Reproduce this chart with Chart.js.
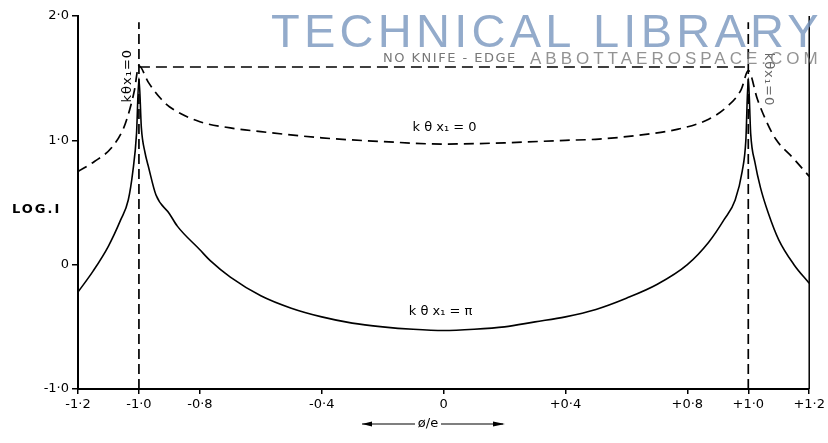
<!DOCTYPE html>
<html><head><meta charset="utf-8">
<script src="https://cdn.jsdelivr.net/npm/chart.js@4"></script>
<style>html,body{margin:0;padding:0;background:#fff}#wrap{width:828px;height:443px}</style>
</head><body><div id="wrap"><canvas id="c" width="828" height="443"></canvas></div>
<script>
// kθx1 = π (solid)
const piX = [-1.2,-1.15,-1.1,-1.06,-1.035,-1.02,-1.008,-1.0,-0.992,-0.98,-0.97,-0.944,-0.9,-0.874,-0.8,-0.765,-0.7,-0.6,-0.5,-0.4,-0.3,-0.2,-0.1,0,0.1,0.2,0.3,0.4,0.5,0.6,0.7,0.8,0.87,0.92,0.957,0.98,0.992,1.0,1.008,1.022,1.04,1.065,1.1,1.15,1.2];
const piY = [-0.22,-0.05,0.15,0.36,0.52,0.75,1.05,1.5,1.1,0.9,0.8,0.56,0.41,0.31,0.12,0.03,-0.1,-0.25,-0.35,-0.42,-0.47,-0.5,-0.52,-0.53,-0.52,-0.5,-0.46,-0.42,-0.36,-0.27,-0.16,0.0,0.18,0.36,0.52,0.75,1.0,1.5,1.05,0.82,0.62,0.42,0.2,0.0,-0.15];
// kθx1 = 0 (dashed)
const zeroX = [-1.2,-1.146,-1.09,-1.05,-1.03,-1.015,-1.0,-0.97,-0.93,-0.9,-0.8,-0.7,-0.6,-0.4,-0.2,0,0.2,0.4,0.51,0.67,0.77,0.87,0.93,0.977,1.0,1.03,1.06,1.09,1.15,1.2];
const zeroY = [0.75,0.83,0.94,1.1,1.25,1.4,1.6,1.47,1.34,1.27,1.15,1.1,1.07,1.02,0.99,0.97,0.98,1.0,1.01,1.05,1.09,1.17,1.27,1.41,1.56,1.33,1.15,1.01,0.85,0.71];
// no knife-edge level
const knifeX = [-1.0, 1.0];
const knifeY = [1.59, 1.59];
// vertical markers at ±1.0
const markX = [-1.0, 1.0];
const markY = [-1.0, 1.95];
const xTicks = [-1.2,-1.0,-0.8,-0.4,0,0.4,0.8,1.0,1.2];
const xTickLabels = ['-1·2','-1·0','-0·8','-0·4','0','+0·4','+0·8','+1·0','+1·2'];
const yTicks = [-1,0,1,2];
const yTickLabels = ['-1·0','0','1·0','2·0'];

const pts = (xs, ys) => xs.map((x, i) => ({x, y: ys[i]}));
const FONT = '"DejaVu Sans", sans-serif';

const overlay = {
  id: 'overlay',
  afterDatasetsDraw(chart) {
    const ctx = chart.ctx, xs = chart.scales.x, ys = chart.scales.y;
    const px = v => xs.getPixelForValue(v), py = v => ys.getPixelForValue(v);
    ctx.save();
    // right frame line
    ctx.strokeStyle = '#000'; ctx.lineWidth = 1.5;
    ctx.beginPath(); ctx.moveTo(px(1.2), py(-1)); ctx.lineTo(px(1.2), py(2)); ctx.stroke();
    ctx.fillStyle = '#000';
    ctx.textAlign = 'center'; ctx.textBaseline = 'middle';
    ctx.font = '13px ' + FONT;
    ctx.fillText('k θ x₁ = 0', px(0.003), py(1.1));
    ctx.fillText('k θ x₁ = π', px(-0.01), py(-0.38));
    // rotated labels
    ctx.save(); ctx.translate(px(-1.036), py(1.52)); ctx.rotate(-Math.PI/2);
    ctx.letterSpacing = '1px';
    ctx.fillText('kθx₁=0', 0, 0); ctx.restore();
    ctx.save(); ctx.translate(px(1.065), py(1.49)); ctx.rotate(Math.PI/2);
    ctx.letterSpacing = '1px';
    ctx.fillStyle = '#666'; ctx.fillText('kθx₁=0', 0, 0); ctx.restore();
    // y title
    ctx.font = 'bold 13px ' + FONT; ctx.textAlign = 'left';
    ctx.letterSpacing = '2px';
    ctx.fillText('LOG.I', 12, py(0.44));
    ctx.letterSpacing = '0px';
    // x title with arrows
    const cy = 424;
    ctx.font = '13px ' + FONT; ctx.textAlign = 'center';
    ctx.fillText('ø/e', 428, cy);
    ctx.lineWidth = 1.2;
    ctx.beginPath(); ctx.moveTo(362, cy); ctx.lineTo(415, cy); ctx.moveTo(441, cy); ctx.lineTo(503, cy); ctx.stroke();
    ctx.beginPath(); ctx.moveTo(362, cy); ctx.lineTo(372, cy-2.5); ctx.lineTo(372, cy+2.5); ctx.closePath(); ctx.fill();
    ctx.beginPath(); ctx.moveTo(505, cy); ctx.lineTo(493, cy-2.5); ctx.lineTo(493, cy+2.5); ctx.closePath(); ctx.fill();
    // watermark
    ctx.fillStyle = 'rgba(120,150,190,0.8)';
    ctx.font = '47px "Liberation Sans", Arial, sans-serif';
    ctx.textAlign = 'left'; ctx.textBaseline = 'alphabetic';
    const wm = 'TECHNICAL LIBRARY';
    const w0 = ctx.measureText(wm).width;
    ctx.letterSpacing = ((552 - w0) / (wm.length)).toFixed(2) + 'px';
    ctx.fillText(wm, 271, 47);
    ctx.letterSpacing = '0px';
    // chart label + site mark
    ctx.fillStyle = '#777';
    ctx.font = '13px ' + FONT;
    ctx.letterSpacing = '1.5px';
    ctx.fillText('NO KNIFE - EDGE', 383, 62);
    ctx.fillStyle = 'rgba(120,120,120,0.8)';
    ctx.font = '17px "Liberation Sans", Arial, sans-serif';
    ctx.letterSpacing = '4px';
    ctx.fillText('ABBOTTAEROSPACE.COM', 530, 64);
    ctx.restore();
  }
};

new Chart(document.getElementById('c'), {
  type: 'line',
  data: {
    datasets: [
      {data: pts(piX, piY), borderColor: '#000', borderWidth: 1.6, pointRadius: 0, cubicInterpolationMode: 'monotone'},
      {data: pts(zeroX, zeroY), borderColor: '#000', borderWidth: 1.7, borderDash: [10, 6], pointRadius: 0, cubicInterpolationMode: 'monotone'},
      {data: pts(knifeX, knifeY), borderColor: '#000', borderWidth: 1.6, borderDash: [11, 6], pointRadius: 0},
      {data: pts([markX[0], markX[0]], markY), borderColor: '#000', borderWidth: 1.7, borderDash: [10, 5], pointRadius: 0},
      {data: pts([markX[1], markX[1]], markY), borderColor: '#000', borderWidth: 1.7, borderDash: [10, 5], pointRadius: 0}
    ]
  },
  options: {
    responsive: false, animation: false,
    layout: {padding: {left: 0, right: 16, top: 16, bottom: 0}},
    plugins: {legend: {display: false}, tooltip: {enabled: false}},
    scales: {
      x: {
        type: 'linear', min: -1.2, max: 1.2,
        afterBuildTicks: s => { s.ticks = xTicks.map(v => ({value: v})); },
        afterFit: s => { s.height = 54; },
        ticks: {callback: (v, i) => xTickLabels[i], font: {family: FONT, size: 13}, color: '#000', padding: 3, maxRotation: 0, autoSkip: false},
        grid: {drawOnChartArea: false, tickLength: 5, color: '#000', lineWidth: 1.5},
        border: {color: '#000', width: 2}
      },
      y: {
        type: 'linear', min: -1, max: 2,
        afterBuildTicks: s => { s.ticks = yTicks.map(v => ({value: v})); },
        afterFit: s => { s.width = 78; },
        ticks: {callback: (v, i) => yTickLabels[i], font: {family: FONT, size: 13}, color: '#000', padding: 3},
        grid: {drawOnChartArea: false, tickLength: 6, color: '#000', lineWidth: 1.5},
        border: {color: '#000', width: 2}
      }
    }
  },
  plugins: [overlay]
});
</script>
</body></html>
